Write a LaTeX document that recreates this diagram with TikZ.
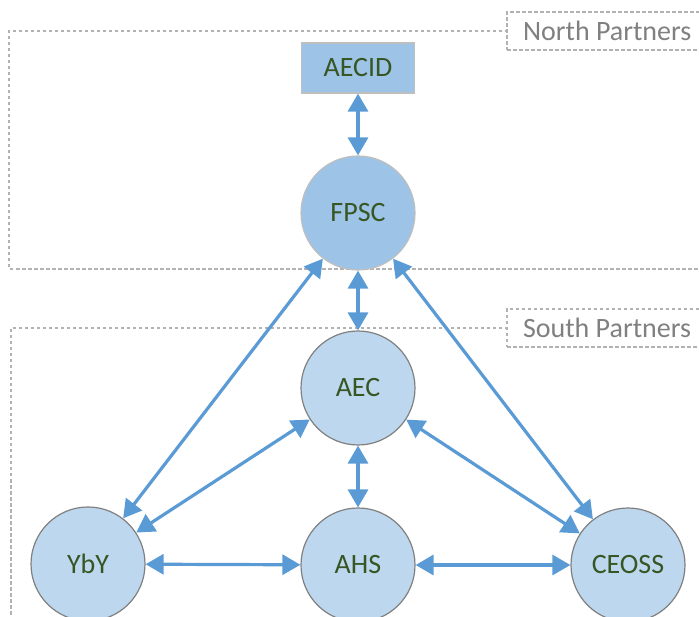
\documentclass[tikz,border=0pt]{standalone}
\usepackage{fontspec}
\setmainfont{Carlito}
\usetikzlibrary{arrows.meta}

\definecolor{partnertext}{HTML}{375623}
\definecolor{linkblue}{HTML}{5B9BD5}
\definecolor{northfill}{HTML}{9DC3E6}
\definecolor{southfill}{HTML}{BDD7EE}
\colorlet{frameline}{gray!60}
\def\partnersize{114pt}

\begin{document}
\begin{tikzpicture}[x=1pt, y=-1pt,
	>={Triangle[length=18pt,width=20pt]},
	partner/.style={circle, draw=gray, line width=1.2pt, fill=southfill,
		minimum size=\partnersize, inner sep=0pt, text=partnertext,
		font=\fontsize{28}{31}\selectfont},
	donor/.style={partner, draw=gray!50, fill=northfill},
	funder/.style={rectangle, draw=gray!50, line width=1.2pt, fill=northfill,
		minimum width=113pt, minimum height=50pt, inner sep=0pt,
		text=partnertext, font=\fontsize{28}{31}\selectfont},
	link/.style={<->, linkblue, line width=3.2pt},
	frame/.style={frameline, line width=2pt, dash pattern=on 3.5pt off 2.5pt},
	framelabel/.style={frame, draw, fill=white, text=gray, anchor=west,
		minimum height=38pt, inner xsep=16pt, inner ysep=0pt,
		font=\fontsize{28}{31}\selectfont}]
	
	\clip (0,0) rectangle (699,617);
	
	% partner groups
	\draw [frame] (730,31) -- (9,31) -- (9,269) -- (730,269);
	\draw [frame] (730,328) -- (11,328) -- (11,650);
	\node [framelabel] (northlabel) at (506,31) {North Partners};
	\node [framelabel] (southlabel) at (506,328) {South Partners};
	
	\node [funder] (aecid) at (358,68) {AECID};
	\node [donor] (fpsc) at (358,213) {FPSC};
	\node [partner] (aec) at (358,388) {AEC};
	\node [partner] (yby) at (88,564) {YbY};
	\node [partner] (ahs) at (358,565) {AHS};
	\node [partner] (ceoss) at (628,565) {CEOSS};
	
	\draw [link] (aecid) -- (fpsc);
	\draw [link] (fpsc) -- (aec);
	\draw [link] (fpsc) -- (yby);
	\draw [link] (fpsc) -- (ceoss);
	\draw [link] (aec) -- (yby);
	\draw [link] (aec) -- (ceoss);
	\draw [link] (aec) -- (ahs);
	\draw [link] (yby) -- (ahs);
	\draw [link] (ahs) -- (ceoss);
	
\end{tikzpicture}
\end{document}
